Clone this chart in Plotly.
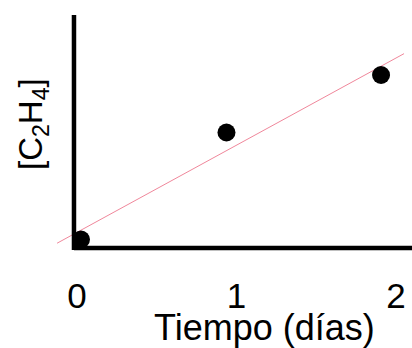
import numpy as np
import plotly.graph_objects as go

# Ethylene concentration over time (arbitrary units)
dias = [0.025, 0.937, 1.906]
c2h4 = [0.085, 1.155, 1.73]

tick_vals = [0, 1, 2]
tick_text = ["0", "1", "2"]

# extent of the fitted line along the time axis
fit_span = [-0.125, 2.05]

# least-squares line through the measurements
pend, orden = np.polyfit(dias, c2h4, 1)
fit_x = np.array(fit_span)
fit_y = orden + pend * fit_x

W, H = 412, 348
L, B = 40, 93
X_RANGE = [-0.232, 2.100]
Y_RANGE = [-0.07, 2.48]
AXIS_X = -0.019   # where the vertical axis sits
AXIS_TOP = 2.33

fig = go.Figure()

fig.add_trace(go.Scatter(
    x=fit_x, y=fit_y, mode="lines",
    line=dict(color="rgb(240,135,155)", width=1),
    hoverinfo="skip", showlegend=False,
))

fig.add_trace(go.Scatter(
    x=dias, y=c2h4, mode="markers",
    marker=dict(color="black", size=18),
    cliponaxis=False, showlegend=False,
))

# axis lines
fig.add_shape(type="line", xref="x", yref="y",
              x0=AXIS_X, x1=X_RANGE[1], y0=0, y1=0,
              line=dict(color="black", width=4.5))
fig.add_shape(type="line", xref="x", yref="y",
              x0=AXIS_X, x1=AXIS_X, y0=-0.02, y1=AXIS_TOP,
              line=dict(color="black", width=4.5))

fig.update_xaxes(
    range=X_RANGE, showgrid=False, zeroline=False, showline=False,
    tickmode="array", tickvals=tick_vals, ticktext=tick_text,
    ticks="outside", ticklen=10, tickcolor="rgba(0,0,0,0)",
    tickfont=dict(family="Arial, Liberation Sans, sans-serif", size=35, color="black"),
)
fig.update_yaxes(
    range=Y_RANGE, showgrid=False, zeroline=False, showline=False,
    showticklabels=False, ticks="",
)

pw = W - L
ph = H - B

fig.add_annotation(
    text="Tiempo (días)", showarrow=False,
    xref="paper", yref="paper",
    x=(264 - L) / pw, y=(ph - 328) / ph,
    xanchor="center", yanchor="middle",
    font=dict(family="Arial, Liberation Sans, sans-serif", size=36, color="black"),
)
fig.add_annotation(
    text="[C<sub>2</sub>H<sub>4</sub>]", showarrow=False, textangle=-90,
    xref="paper", yref="paper",
    x=(33 - L) / pw, y=(ph - 124) / ph,
    xanchor="center", yanchor="middle",
    font=dict(family="Arial, Liberation Sans, sans-serif", size=33, color="black"),
)

fig.update_layout(
    width=W, height=H,
    margin=dict(l=L, r=0, t=0, b=B, pad=0),
    paper_bgcolor="white", plot_bgcolor="white",
    showlegend=False,
)

fig.write_html("out.html", config={"displayModeBar": False})
